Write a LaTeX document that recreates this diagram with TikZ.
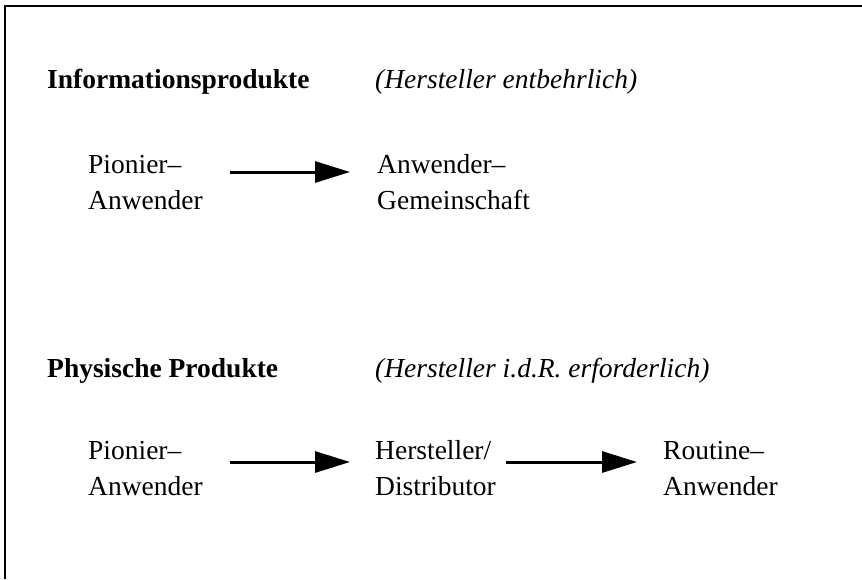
\documentclass[tikz,border=0pt]{standalone}
\usepackage{fontspec}
\setmainfont{Liberation Serif}
\usetikzlibrary{arrows.meta}
\begin{document}
\begin{tikzpicture}[x=1pt,y=-1pt,
  txt/.style={font=\fontsize{27.5}{36}\selectfont, inner sep=0pt, anchor=base west, align=left},
  head/.style={txt, font=\fontsize{27.5}{36}\selectfont\bfseries},
  note/.style={txt, font=\fontsize{27.5}{36}\selectfont\itshape},
  arr/.style={line width=3pt, -{Triangle[length=35pt,width=21pt]}},
  frame/.style={line width=1.6pt}]
\useasboundingbox (0,0) rectangle (862,579);
\coordinate (fb) at (5,579);
\coordinate (fc) at (5,6);
\coordinate (fr) at (862,6);
\draw[frame] (fb) -- (fc) -- (fr);
\node[head] (h1) at (47,88) {Informationsprodukte};
\node[note] (n1) at (375,88) {(Hersteller entbehrlich)};
\node[txt] (p1) at (88,209) {Pionier–\\Anwender};
\node[txt] (a1) at (377,209) {Anwender–\\Gemeinschaft};
\node[head] (h2) at (47,377) {Physische Produkte};
\node[note] (n2) at (375,377) {(Hersteller i.d.R. erforderlich)};
\node[txt] (p2) at (88,495) {Pionier–\\Anwender};
\node[txt] (d2) at (375,495) {Hersteller/\\Distributor};
\node[txt] (r2) at (663,495) {Routine–\\Anwender};
\draw[arr, shorten <=27pt, shorten >=27pt] (p1.east |- 0,172) -- (a1.west |- 0,172);
\draw[arr, shorten <=27pt, shorten >=25pt] (p2.east |- 0,462) -- (d2.west |- 0,462);
\draw[arr, shorten <=10pt, shorten >=26pt] (d2.east |- 0,462) -- (r2.west |- 0,462);
\end{tikzpicture}
\end{document}
